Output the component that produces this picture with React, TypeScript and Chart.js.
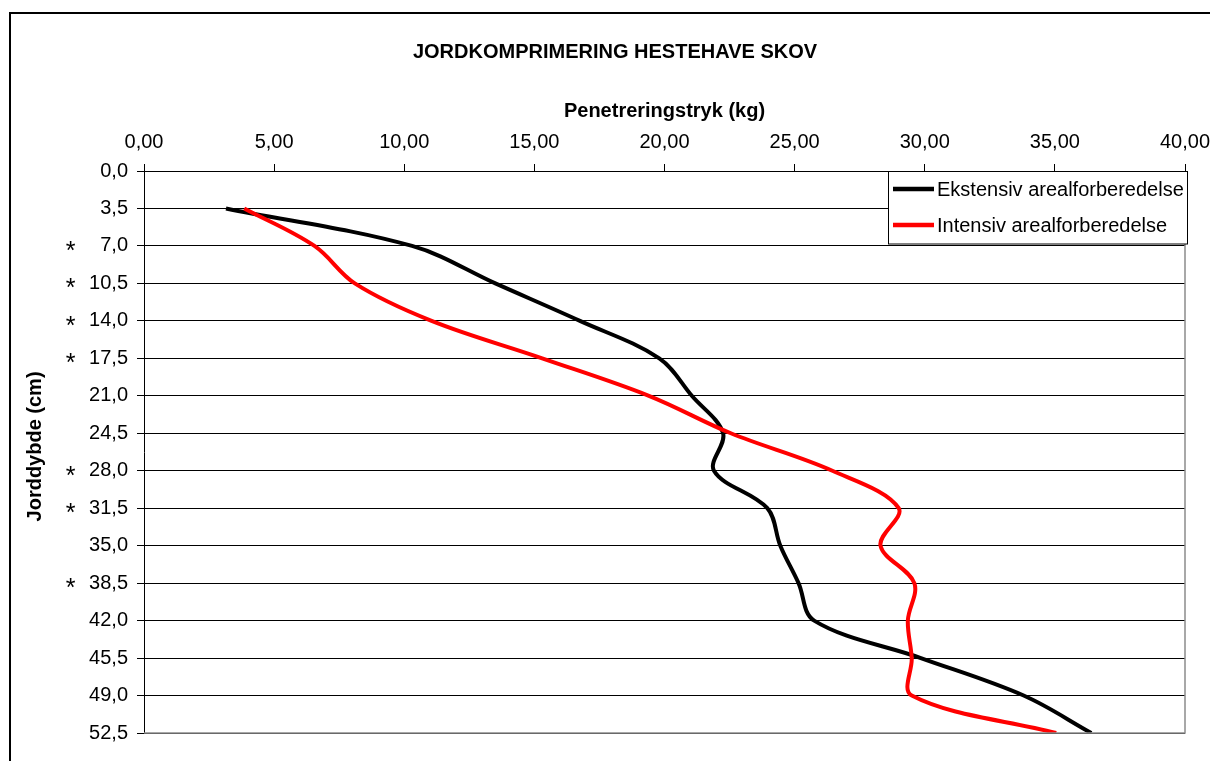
import React, { useEffect, useRef } from "react";
import { Chart, registerables } from "chart.js";

Chart.register(...registerables);

const chartTitle = "JORDKOMPRIMERING HESTEHAVE SKOV";
const xAxisTitle = "Penetreringstryk (kg)";
const yAxisTitle = "Jorddybde (cm)";
const seriesNames = ["Ekstensiv arealforberedelse", "Intensiv arealforberedelse"];
const seriesColors = ["#000000", "#ff0000"];

const depths = [3.5, 7, 10.5, 14, 17.5, 21, 24.5, 28, 31.5, 35, 38.5, 42, 45.5, 49, 52.5];
const ekstensiv = [3.15, 10.3, 13.5, 16.75, 19.8, 21.05, 22.25, 21.9, 23.95, 24.45, 25.15, 25.75, 29.85, 33.8, 36.4];
const intensiv = [3.85, 6.55, 8.1, 11.05, 15.3, 19.4, 22.55, 26.45, 29.0, 28.3, 29.6, 29.35, 29.5, 29.5, 35.05];

const xTicks = [0, 5, 10, 15, 20, 25, 30, 35, 40];
const depthTicks = [0, 3.5, 7, 10.5, 14, 17.5, 21, 24.5, 28, 31.5, 35, 38.5, 42, 45.5, 49, 52.5];
const starredDepths = [7, 10.5, 14, 17.5, 28, 31.5, 38.5];

const FONT = "'Liberation Sans', Arial, sans-serif";

const decorPlugin = {
  id: "decor",
  beforeDraw(chart: any) {
    const ctx = chart.ctx;
    ctx.save();
    ctx.fillStyle = "#ffffff";
    ctx.fillRect(0, 0, chart.width, chart.height);
    ctx.fillStyle = "#000000";
    ctx.fillRect(9, 12, 2, chart.height);
    ctx.fillRect(9, 12, chart.width, 2);
    ctx.restore();
  },
  afterDraw(chart: any) {
    const { ctx, chartArea: ca, scales } = chart;
    ctx.save();
    // chart title
    ctx.fillStyle = "#000";
    ctx.font = `bold 20px ${FONT}`;
    ctx.textAlign = "center";
    ctx.textBaseline = "middle";
    ctx.fillText(chartTitle, 615, 52);

    // right and bottom plot border
    ctx.strokeStyle = "#8c8c8c";
    ctx.lineWidth = 1.5;
    ctx.beginPath();
    ctx.moveTo(ca.right, ca.top);
    ctx.lineTo(ca.right, ca.bottom);
    ctx.lineTo(ca.left, ca.bottom);
    ctx.stroke();

    // significance asterisks
    ctx.font = `25px ${FONT}`;
    ctx.textAlign = "center";
    ctx.textBaseline = "alphabetic";
    ctx.fillStyle = "#000";
    starredDepths.forEach((d) => {
      const y = scales.y.getPixelForValue(d);
      ctx.fillText("*", 70.5, y + 13);
    });

    // legend
    const lx = 888.5, ly = 171.5, lw = 299, lh = 72.5;
    ctx.fillStyle = "#fff";
    ctx.fillRect(lx, ly, lw, lh);
    ctx.strokeStyle = "#000";
    ctx.lineWidth = 1;
    ctx.strokeRect(lx, ly, lw, lh);
    const rows = [189, 225];
    chart.data.datasets.forEach((ds: any, i: number) => {
      const y = rows[i];
      ctx.strokeStyle = ds.borderColor;
      ctx.lineWidth = 4.5;
      ctx.beginPath();
      ctx.moveTo(893, y);
      ctx.lineTo(934, y);
      ctx.stroke();
      ctx.fillStyle = "#000";
      ctx.font = `20px ${FONT}`;
      ctx.textAlign = "left";
      ctx.textBaseline = "middle";
      ctx.fillText(ds.label, 937, y + 1);
    });
    ctx.restore();
  },
};

export default function App() {
  const canvasRef = useRef<HTMLCanvasElement | null>(null);

  useEffect(() => {
    if (!canvasRef.current) return;
    const mk = (vals: number[]) => depths.map((d, i) => ({ x: vals[i], y: d }));
    const chart = new Chart(canvasRef.current, {
      type: "line",
      data: {
        datasets: [
          {
            label: seriesNames[0],
            data: mk(ekstensiv),
            borderColor: seriesColors[0],
            backgroundColor: seriesColors[0],
            borderWidth: 4,
            pointRadius: 0,
            tension: 0.35,
            fill: false,
            order: 1,
          },
          {
            label: seriesNames[1],
            data: mk(intensiv),
            borderColor: seriesColors[1],
            backgroundColor: seriesColors[1],
            borderWidth: 4,
            pointRadius: 0,
            tension: 0.35,
            fill: false,
            order: 0,
          },
        ],
      },
      options: {
        responsive: false,
        animation: false,
        devicePixelRatio: 1,
        layout: { padding: { left: 0, top: 0, right: 25, bottom: 28 } },
        plugins: {
          legend: { display: false },
          title: { display: false },
          tooltip: { enabled: false },
        },
        scales: {
          x: {
            type: "linear",
            position: "top",
            min: 0,
            max: 40,
            afterBuildTicks: (s: any) => {
              s.ticks = xTicks.map((v) => ({ value: v }));
            },
            afterFit: (s: any) => {
              s.height = 171;
              s.paddingLeft = 0;
              s.paddingRight = 0;
            },
            ticks: {
              callback: (v: any) => Number(v).toFixed(2).replace(".", ","),
              font: { size: 20, family: FONT },
              color: "#000",
              padding: 10,
              maxRotation: 0,
              autoSkip: false,
            },
            grid: { drawOnChartArea: false, drawTicks: true, tickLength: 7, color: "#000" },
            border: { color: "#000", width: 1 },
            title: {
              display: true,
              text: xAxisTitle,
              color: "#000",
              font: { size: 20, weight: "bold", family: FONT },
              padding: { top: 99, bottom: 0 },
            },
          },
          y: {
            type: "linear",
            reverse: true,
            min: 0,
            max: 52.5,
            afterBuildTicks: (s: any) => {
              s.ticks = depthTicks.map((v) => ({ value: v }));
            },
            afterFit: (s: any) => {
              s.width = 144;
              s.paddingTop = 0;
              s.paddingBottom = 0;
            },
            ticks: {
              callback: (v: any) => Number(v).toFixed(1).replace(".", ","),
              font: { size: 20, family: FONT },
              color: "#000",
              padding: 9,
              autoSkip: false,
            },
            grid: { color: "#000", tickLength: 7, drawTicks: true, lineWidth: 1 },
            border: { color: "#000", width: 1 },
            title: {
              display: true,
              text: "  " + yAxisTitle,
              color: "#000",
              font: { size: 20, weight: "bold", family: FONT },
              padding: { top: 23, bottom: 0 },
            },
          },
        },
      },
      plugins: [decorPlugin],
    } as any);
    return () => chart.destroy();
  }, []);

  return (
    <div style={{ position: "fixed", left: 0, top: 0, width: 1210, height: 761, background: "#fff", overflow: "hidden" }}>
      <canvas ref={canvasRef} width={1210} height={761} style={{ display: "block", width: 1210, height: 761 }} />
    </div>
  );
}
